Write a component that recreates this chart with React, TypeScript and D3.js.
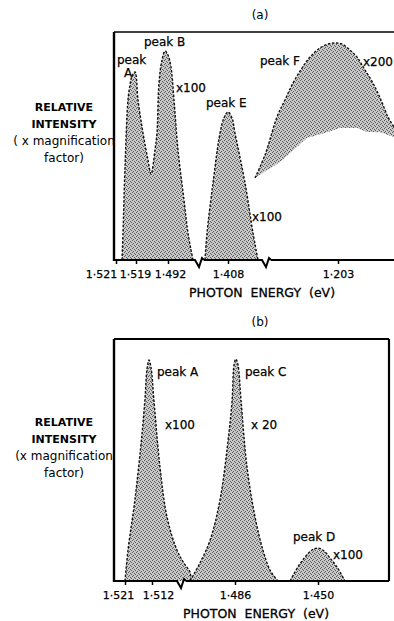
import { useRef, useEffect } from 'react'
import * as d3 from 'd3'

// ---- data: photon energy (eV) vs relative intensity (0..1 of panel height)
const A_TICKS = [1.521, 1.519, 1.492, 1.408, 1.203]
const A_BREAKS = [1.4472, 1.3353]

const A_AB_E = [1.5204, 1.5203, 1.5201, 1.5198, 1.5196, 1.5194, 1.5191, 1.5173, 1.5131, 1.5089, 1.5063, 1.503, 1.5013, 1.4996, 1.4971, 1.4945, 1.492, 1.4878, 1.4836, 1.478, 1.4696, 1.464, 1.457]
const A_AB_I = [0, 0.118, 0.408, 0.702, 0.768, 0.807, 0.825, 0.702, 0.557, 0.439, 0.377, 0.482, 0.557, 0.776, 0.877, 0.917, 0.899, 0.846, 0.702, 0.482, 0.263, 0.118, 0]

const A_E_E = [1.4402, 1.4374, 1.429, 1.4192, 1.4136, 1.408, 1.4005, 1.395, 1.3763, 1.3614, 1.3521]
const A_E_I = [0, 0.118, 0.338, 0.557, 0.623, 0.649, 0.623, 0.557, 0.338, 0.118, 0]

const A_F_E = [1.3577, 1.339, 1.3167, 1.3018, 1.2869, 1.2701, 1.2552, 1.2366, 1.2216, 1.2086, 1.1955, 1.1806, 1.1676, 1.1527, 1.1378, 1.1229, 1.1098, 1.0986]
const A_F_I = [0.36, 0.461, 0.627, 0.702, 0.776, 0.842, 0.89, 0.93, 0.947, 0.952, 0.947, 0.921, 0.89, 0.833, 0.776, 0.702, 0.627, 0.583]
// lower edge of the shaded peak F region
const A_FLOW_E = [1.3577, 1.3111, 1.2608, 1.2216, 1.1993, 1.1676, 1.149, 1.1247, 1.0986]
const A_FLOW_I = [0.36, 0.43, 0.535, 0.561, 0.579, 0.579, 0.561, 0.56, 0.539]

const B_TICKS = [1.521, 1.512, 1.486, 1.45]
const B_BREAKS = [1.5026]

const B_A_E = [1.521, 1.52, 1.5177, 1.5153, 1.5143, 1.5137, 1.513, 1.5123, 1.5114, 1.5095, 1.5073, 1.5042, 1.502, 1.5001, 1.4998]
const B_A_I = [0, 0.128, 0.335, 0.612, 0.76, 0.872, 0.913, 0.88, 0.748, 0.471, 0.264, 0.128, 0.074, 0.037, 0]

const B_C_E = [1.5001, 1.497, 1.4938, 1.4907, 1.4879, 1.4869, 1.4863, 1.4856, 1.4847, 1.4834, 1.4808, 1.4773, 1.4739, 1.4708, 1.4674]
const B_C_I = [0, 0.074, 0.169, 0.335, 0.612, 0.748, 0.893, 0.917, 0.893, 0.748, 0.471, 0.264, 0.128, 0.045, 0]

const B_D_E = [1.4621, 1.4587, 1.4556, 1.4526, 1.45, 1.4474, 1.4448, 1.4418, 1.4383]
const B_D_I = [0, 0.058, 0.099, 0.128, 0.136, 0.124, 0.095, 0.058, 0]

const FONT = 'DejaVu Sans, sans-serif'

type Label = { text: string; x: number; y: number; size?: number }

interface Panel {
  title: string
  left: number
  right: number
  top: number
  bottom: number
  closed: boolean
  ticks: number[]
  tickX: number[]
  tickDx: number[]
  breaks: number[]
  peaks: { e: number[]; i: number[]; lowE?: number[]; lowI?: number[] }[]
  labels: Label[]
  yLabel: string[]
  yLabelY: number
  xLabelX: number
}

const PANELS: Panel[] = [
  {
    title: '(a)', left: 114, right: 400, top: 32, bottom: 260, closed: false,
    ticks: A_TICKS, tickX: [116, 136, 168, 228, 338], tickDx: [-15, -1, 2, 0, 0], breaks: A_BREAKS,
    peaks: [
      { e: A_AB_E, i: A_AB_I },
      { e: A_E_E, i: A_E_I },
      { e: A_F_E, i: A_F_I, lowE: A_FLOW_E, lowI: A_FLOW_I },
    ],
    labels: [
      { text: 'peak', x: 117, y: 64 },
      { text: 'A', x: 124, y: 77 },
      { text: 'peak B', x: 144, y: 46 },
      { text: 'x100', x: 176, y: 92 },
      { text: 'peak E', x: 206, y: 107 },
      { text: 'x100', x: 252, y: 221 },
      { text: 'peak F', x: 260, y: 65 },
      { text: 'x200', x: 363, y: 66 },
    ],
    yLabel: ['RELATIVE', 'INTENSITY', '( x magnification', 'factor)'],
    yLabelY: 111, xLabelX: 262,
  },
  {
    title: '(b)', left: 114, right: 389, top: 339, bottom: 581, closed: true,
    ticks: B_TICKS, tickX: [125, 152, 235, 318], tickDx: [-7, 6, 0, 0], breaks: B_BREAKS,
    peaks: [
      { e: B_A_E, i: B_A_I },
      { e: B_C_E, i: B_C_I },
      { e: B_D_E, i: B_D_I },
    ],
    labels: [
      { text: 'peak A', x: 157, y: 376 },
      { text: 'x100', x: 165, y: 429 },
      { text: 'peak C', x: 245, y: 376 },
      { text: 'x 20', x: 251, y: 429 },
      { text: 'peak D', x: 293, y: 541 },
      { text: 'x100', x: 333, y: 559 },
    ],
    yLabel: ['RELATIVE', 'INTENSITY', '(x magnification', 'factor)'],
    yLabelY: 426, xLabelX: 256,
  },
]

export default function App() {
  const svgRef = useRef<SVGSVGElement>(null)

  useEffect(() => {
    if (!svgRef.current) return
    const el = d3.select(svgRef.current)
    el.selectAll('*').remove()

    // stippled gray fill like the printed halftone
    const pat = el.append('defs').append('pattern')
      .attr('id', 'stip').attr('width', 4).attr('height', 4)
      .attr('patternUnits', 'userSpaceOnUse')
    pat.append('rect').attr('width', 4).attr('height', 4).attr('fill', '#c9c9c9')
    ;[[0, 0], [2, 1], [1, 3], [3, 2]].forEach(([px, py]) => {
      pat.append('rect').attr('x', px).attr('y', py).attr('width', 1).attr('height', 1).attr('fill', '#5a5a5a')
    })

    PANELS.forEach((p) => {
      const g = el.append('g')
      const x = d3.scaleLinear().domain(p.ticks).range(p.tickX)
      const y = d3.scaleLinear().domain([0, 1]).range([p.bottom, p.top])

      // peaks
      p.peaks.forEach((pk) => {
        const pts = pk.e.map((e, k) => [e, pk.i[k]] as [number, number])
        if (pk.lowE && pk.lowI) {
          const low = pk.lowE.map((e, k) => [e, pk.lowI![k]] as [number, number])
          const poly = [...pts, ...low.slice().reverse()]
          g.append('path')
            .attr('d', d3.line<[number, number]>().x((d) => x(d[0])).y((d) => y(d[1]))(poly) + 'Z')
            .attr('fill', 'url(#stip)')
        } else {
          g.append('path')
            .attr('d', d3.area<[number, number]>().x((d) => x(d[0])).y0(y(0)).y1((d) => y(d[1])).curve(d3.curveCatmullRom)(pts))
            .attr('fill', 'url(#stip)')
        }
        g.append('path')
          .attr('d', d3.line<[number, number]>().x((d) => x(d[0])).y((d) => y(d[1])).curve(d3.curveCatmullRom)(pts))
          .attr('fill', 'none').attr('stroke', '#111').attr('stroke-width', 1.4)
          .attr('stroke-dasharray', '2.5,1.6')
      })

      // frame
      g.append('line').attr('x1', p.left).attr('x2', p.left).attr('y1', p.top).attr('y2', p.bottom + 1)
        .attr('stroke', '#000').attr('stroke-width', 2.4)
      g.append('line').attr('x1', p.left).attr('x2', p.right).attr('y1', p.top).attr('y2', p.top)
        .attr('stroke', '#000').attr('stroke-width', p.closed ? 2.2 : 1.6)
      if (p.closed) {
        g.append('line').attr('x1', p.right).attr('x2', p.right).attr('y1', p.top).attr('y2', p.bottom)
          .attr('stroke', '#000').attr('stroke-width', 2.2)
      }

      // baseline with axis breaks
      const bx = p.breaks.map((b) => x(b))
      let start = p.left
      const base = y(0)
      bx.forEach((b) => {
        g.append('path')
          .attr('d', `M${start},${base}L${b - 5},${base}L${b - 1},${base + 7}L${b + 2},${base - 2}L${b + 4},${base}`)
          .attr('fill', 'none').attr('stroke', '#000').attr('stroke-width', 2)
        start = b + 4
      })
      g.append('line').attr('x1', start).attr('x2', p.right).attr('y1', base).attr('y2', base)
        .attr('stroke', '#000').attr('stroke-width', 2)

      // ticks
      const axis = g.append('g').attr('transform', `translate(0,${base})`)
        .call(d3.axisBottom(x).tickValues(p.ticks).tickSize(4).tickPadding(6)
          .tickFormat((d) => d3.format('.3f')(d as number).replace('.', '·')))
      axis.select('.domain').remove()
      axis.selectAll('line').attr('stroke', '#000').attr('stroke-width', 1.5)
      axis.selectAll('text').attr('fill', '#000').attr('font-size', 11).attr('font-family', FONT)
        .attr('stroke', '#000').attr('stroke-width', 0.25)
        .attr('dx', (_d, k) => p.tickDx[k])

      // labels
      g.append('text').attr('x', 260).attr('y', p.top - 13).attr('text-anchor', 'middle')
        .attr('font-family', FONT).attr('font-size', 12).text(p.title)
      g.append('text').attr('x', p.xLabelX).attr('y', base + 37).attr('text-anchor', 'middle')
        .attr('font-family', FONT).attr('font-size', 12.5).style('white-space', 'pre')
        .attr('stroke', '#000').attr('stroke-width', 0.3)
        .text('PHOTON  ENERGY  (eV)')

      p.yLabel.forEach((t, k) => {
        g.append('text').attr('x', 64).attr('y', p.yLabelY + k * 17).attr('text-anchor', 'middle')
          .attr('font-family', FONT).attr('font-size', k < 2 ? 11 : 12)
          .attr('font-weight', k < 2 ? 'bold' : 'normal').style('white-space', 'pre').text(t)
      })

      p.labels.forEach((l) => {
        g.append('text').attr('x', l.x).attr('y', l.y).attr('font-family', FONT)
          .attr('stroke', '#000').attr('stroke-width', 0.25)
          .attr('font-size', l.size ?? 12).text(l.text)
      })
    })
  }, [])

  return (
    <svg ref={svgRef} width={394} height={621}
      style={{ position: 'absolute', left: 0, top: 0, background: '#fff' }} />
  )
}
